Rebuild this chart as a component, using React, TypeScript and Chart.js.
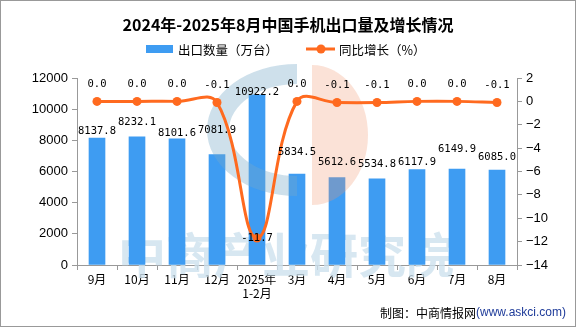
import React, { useEffect, useRef } from "react";
import { Chart, registerables } from "chart.js";

Chart.register(...registerables);

const categories: (string | string[])[] = ["9月", "10月", "11月", "12月", ["2025年", "1-2月"], "3月", "4月", "5月", "6月", "7月", "8月"];
const exportVolume = [8137.8, 8232.1, 8101.6, 7081.9, 10922.2, 5834.5, 5612.6, 5534.8, 6117.9, 6149.9, 6085.0];
const yoyGrowth = [0.0, 0.0, 0.0, -0.1, -11.7, 0.0, -0.1, -0.1, 0.0, 0.0, -0.1];
const leftAxis = { min: 0, max: 12000, step: 2000 };
const rightAxis = { min: -14, max: 2, step: 2 };
const barLabelLift = [7, 14, 5, 24, 3, 22, 15, 14, 7, 20, 13];
const lineLabelLift = [17, 17, 17, 17, 0, 17, 17, 17, 17, 17, 17];

const titleText = "2024年-2025年8月中国手机出口量及增长情况";
const barName = "出口数量（万台）";
const lineName = "同比增长（%）";

const BAR_COLOR = "#3E9CF2";
const LINE_COLOR = "#FF6A1F";
const CJK = "'Noto Sans CJK SC', sans-serif";
const MONO = "'DejaVu Sans Mono', monospace";

const decorPlugin = {
  id: "decor",
  beforeDatasetsDraw(chart: any) {
    const ctx = chart.ctx;
    ctx.save();
    ctx.fillStyle = "rgba(205,225,238,0.8)";
    ctx.font = `bold 48px ${CJK}`;
    ctx.textAlign = "center";
    ctx.textBaseline = "middle";
    ctx.fillText("中商产业研究院", 286, 255);
    ctx.restore();
  },
  afterDatasetDraw(chart: any, args: any) {
    if (args.index !== 0) return;
    const ctx = chart.ctx;
    ctx.save();
    ctx.fillStyle = "rgba(120,170,200,0.36)";
    ctx.beginPath();
    ctx.ellipse(297, 130, 90, 66, 0, Math.PI / 2, (Math.PI * 3) / 2, false);
    ctx.ellipse(297, 130, 68, 46, 0, (Math.PI * 3) / 2, Math.PI / 2, true);
    ctx.closePath();
    ctx.fill();
    ctx.fillStyle = "rgba(240,150,110,0.28)";
    ctx.beginPath();
    ctx.ellipse(312, 135, 56, 70, 0, -Math.PI / 2, Math.PI / 2, false);
    ctx.closePath();
    ctx.fill();
    ctx.restore();
  },
  afterDatasetsDraw(chart: any) {
    const ctx = chart.ctx;
    ctx.save();
    ctx.font = `10.5px ${MONO}`;
    ctx.fillStyle = "#000";
    ctx.textAlign = "center";
    ctx.textBaseline = "middle";
    const barMeta = chart.getDatasetMeta(0);
    barMeta.data.forEach((el: any, i: number) => {
      ctx.fillText(exportVolume[i].toFixed(1), el.x, el.y - barLabelLift[i]);
    });
    const lineMeta = chart.getDatasetMeta(1);
    lineMeta.data.forEach((el: any, i: number) => {
      ctx.fillText(yoyGrowth[i].toFixed(1), el.x, el.y - lineLabelLift[i]);
    });
    ctx.restore();
  },
  afterDraw(chart: any) {
    const ctx = chart.ctx;
    const W = chart.width;
    const H = chart.height;
    ctx.save();
    ctx.fillStyle = "#000";
    ctx.font = `bold 16px ${CJK}`;
    ctx.textAlign = "center";
    ctx.textBaseline = "middle";
    ctx.fillText(titleText, 288, 25);
    ctx.font = `12.5px ${CJK}`;
    ctx.textAlign = "left";
    ctx.fillStyle = BAR_COLOR;
    ctx.fillRect(146, 45, 27, 8);
    ctx.fillStyle = "#000";
    ctx.fillText(barName, 178, 50);
    ctx.strokeStyle = LINE_COLOR;
    ctx.lineWidth = 3;
    ctx.beginPath();
    ctx.moveTo(306, 49);
    ctx.lineTo(335, 49);
    ctx.stroke();
    ctx.fillStyle = LINE_COLOR;
    ctx.beginPath();
    ctx.arc(321, 49, 4.5, 0, Math.PI * 2);
    ctx.fill();
    ctx.fillStyle = "#000";
    ctx.fillText(lineName, 339, 50);
    ctx.font = `12px 'Liberation Sans', sans-serif`;
    const url = "(www.askci.com)";
    const urlW = ctx.measureText(url).width;
    ctx.textAlign = "right";
    ctx.fillStyle = "#1F3C9A";
    ctx.fillText(url, 566, 313);
    ctx.font = `12px ${CJK}`;
    ctx.fillStyle = "#000";
    ctx.fillText("制图：中商情报网", 566 - urlW, 313);
    ctx.strokeStyle = "#999";
    ctx.lineWidth = 1;
    ctx.strokeRect(0.5, 0.5, W - 1, H - 1);
    ctx.restore();
  },
};

export default function App() {
  const ref = useRef<HTMLCanvasElement | null>(null);
  useEffect(() => {
    document.body.style.margin = "0";
    const canvas = ref.current!;
    const axisColor = "#999";
    const chart = new Chart(canvas, {
      type: "bar",
      data: {
        labels: categories as any,
        datasets: [
          {
            type: "bar",
            label: barName,
            data: exportVolume,
            backgroundColor: BAR_COLOR,
            barThickness: 16,
            yAxisID: "y",
            order: 1,
          },
          {
            type: "line",
            label: lineName,
            data: yoyGrowth,
            borderColor: LINE_COLOR,
            backgroundColor: LINE_COLOR,
            borderWidth: 3,
            pointRadius: 4.5,
            pointBackgroundColor: LINE_COLOR,
            pointBorderWidth: 0,
            tension: 0.4,
            yAxisID: "y1",
            order: 0,
          } as any,
        ],
      },
      options: {
        responsive: false,
        animation: false,
        devicePixelRatio: 1,
        layout: { padding: { top: 78, left: 0, right: 0, bottom: 0 } },
        plugins: {
          legend: { display: false },
          title: { display: false },
          tooltip: { enabled: false },
        },
        scales: {
          x: {
            offset: true,
            grid: { display: true, drawOnChartArea: false, drawTicks: true, tickLength: 5, color: axisColor, offset: true },
            border: { display: true, color: axisColor },
            ticks: { color: "#000", font: { family: CJK, size: 12, lineHeight: 1.15 }, padding: 3, maxRotation: 0, autoSkip: false },
            afterFit: (s: any) => { s.height = 62; },
          },
          y: {
            position: "left",
            min: leftAxis.min,
            max: leftAxis.max,
            grid: { display: true, drawOnChartArea: false, drawTicks: true, tickLength: 5, color: axisColor },
            border: { display: true, color: axisColor },
            ticks: {
              stepSize: leftAxis.step,
              color: "#000",
              font: { family: "'Liberation Sans', sans-serif", size: 13 },
              padding: 4,
              callback: (v: any) => String(v),
            },
            afterFit: (s: any) => { s.width = 77; },
          },
          y1: {
            position: "right",
            min: rightAxis.min,
            max: rightAxis.max,
            grid: { display: true, drawOnChartArea: false, drawTicks: true, tickLength: 5, color: axisColor },
            border: { display: true, color: axisColor },
            ticks: {
              stepSize: rightAxis.step,
              color: "#000",
              font: { family: "'Liberation Sans', sans-serif", size: 13 },
              padding: 4,
              callback: (v: any) => String(v).replace("-", "\u2212"),
            },
            afterFit: (s: any) => { s.width = 59; },
          },
        },
      } as any,
      plugins: [decorPlugin],
    });
    return () => chart.destroy();
  }, []);
  return (
    <div style={{ width: 576, height: 327 }}>
      <canvas ref={ref} width={576} height={327} style={{ display: "block" }} />
    </div>
  );
}
